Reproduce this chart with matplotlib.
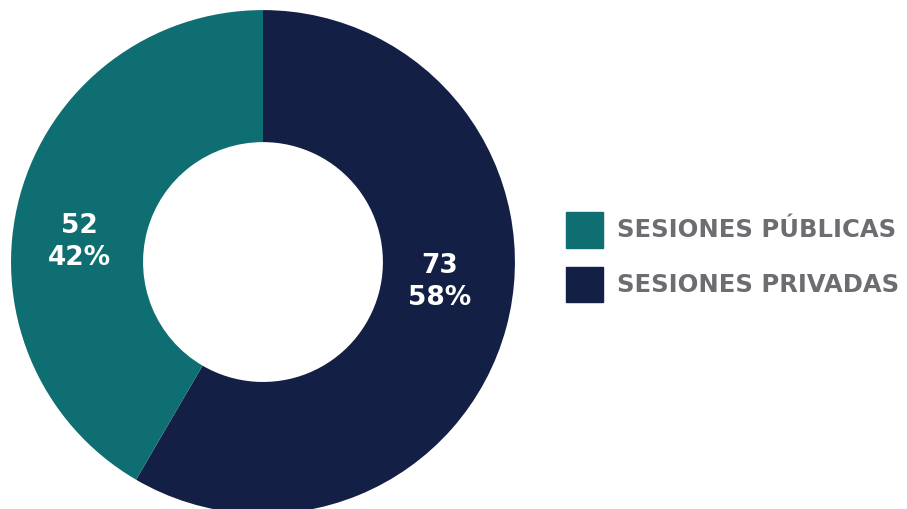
import matplotlib.pyplot as plt
import numpy as np

labels = ['SESIONES PÚBLICAS', 'SESIONES PRIVADAS']
values = [52, 73]
colors = ['#0f6e72', '#131f45']

total = sum(values)
pcts = [round(v * 100 / total) for v in values]

fig = plt.figure(figsize=(9.07, 5.09), dpi=100)
ax = fig.add_axes([0.0121, -0.0098, 0.5557, 0.990])

# privadas first, clockwise from 12 o'clock
wedges, _ = ax.pie(values[::-1], colors=colors[::-1], startangle=90, counterclock=False,
                   radius=1.0, wedgeprops=dict(width=0.524, edgecolor='none'))
ax.set_xlim(-1, 1)
ax.set_ylim(-1, 1)
ax.set_aspect('equal')
ax.axis('off')

# label positions (data units, radius = 1)
label_pos = [(-0.73, 0.08), (0.70, -0.08)]
for (x, y), v, p in zip(label_pos, values, pcts):
    ax.text(x, y, f'{v}\n{p}%', color='white', fontsize=19, fontweight='bold',
            ha='center', va='center', linespacing=1.28)

legend_handles = [plt.Rectangle((0, 0), 1, 1, color=c) for c in colors]
fig.legend(legend_handles, labels, loc='center left', bbox_to_anchor=(0.624, 0.495),
           frameon=False, borderpad=0, borderaxespad=0, handlelength=1.52, handleheight=1.9,
           handletextpad=0.58, labelspacing=0.78,
           prop=dict(size=17.5, weight='bold'), labelcolor='#6d6d71')

fig.savefig('out.png', dpi=100)
